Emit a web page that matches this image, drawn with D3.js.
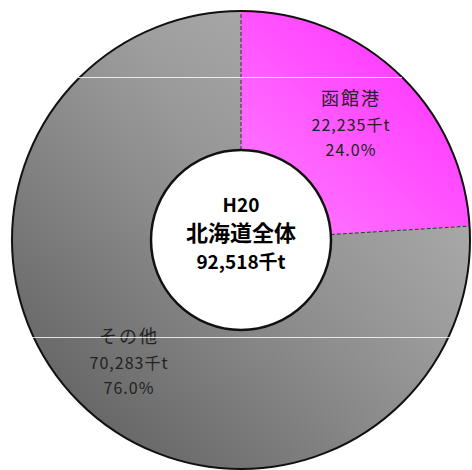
<!DOCTYPE html>
<html>
<head>
<meta charset="utf-8">
<script src="https://cdn.jsdelivr.net/npm/d3@7"></script>
<style>
  body { margin: 0; background: #fff; }
  text { font-family: "Noto Sans CJK JP", "Noto Sans", sans-serif; }
</style>
</head>
<body>
<div id="chart"></div>
<script>
// data
var categories = ["函館港", "その他"];
var values = [22235, 70283];
var centerTitle = ["H20", "北海道全体"];
var unit = "千t";

var svgWidth = 472;
var svgHeight = 470;
var cx = 241, cy = 240;
var outerR = 229, innerR = 90;

var total = d3.sum(values);

var svg = d3.select("#chart")
  .append("svg")
  .attr("width", svgWidth)
  .attr("height", svgHeight);

// gradients
var defs = svg.append("defs");
var gPink = defs.append("linearGradient")
  .attr("id", "gPink")
  .attr("gradientUnits", "userSpaceOnUse")
  .attr("x1", 460).attr("y1", 20).attr("x2", 240).attr("y2", 240);
gPink.append("stop").attr("offset", "0%").attr("stop-color", "#ff2bff");
gPink.append("stop").attr("offset", "100%").attr("stop-color", "#ff80ff");

var gGray = defs.append("linearGradient")
  .attr("id", "gGray")
  .attr("gradientUnits", "userSpaceOnUse")
  .attr("x1", 400).attr("y1", 60).attr("x2", 60).attr("y2", 420);
gGray.append("stop").attr("offset", "0%").attr("stop-color", "#b8b8b8");
gGray.append("stop").attr("offset", "55%").attr("stop-color", "#8a8a8a");
gGray.append("stop").attr("offset", "100%").attr("stop-color", "#626262");

var gGray2 = defs.append("linearGradient")
  .attr("id", "gGray2")
  .attr("gradientUnits", "userSpaceOnUse")
  .attr("x1", 120).attr("y1", 420).attr("x2", 460).attr("y2", 300);
gGray2.append("stop").attr("offset", "0%").attr("stop-color", "#808080").attr("stop-opacity", 0);
gGray2.append("stop").attr("offset", "100%").attr("stop-color", "#b4b4b4").attr("stop-opacity", 0.8);

var fills = ["url(#gPink)", "url(#gGray)"];

var chartGroup = svg.append("g")
  .attr("transform", `translate(${cx}, ${cy})`);

var pie = d3.pie().sort(null).value(d => d);
var arcs = pie(values);

var arc = d3.arc().innerRadius(innerR).outerRadius(outerR);

chartGroup.selectAll("path.slice")
  .data(arcs)
  .enter()
  .append("path")
  .attr("class", "slice")
  .attr("d", arc)
  .attr("fill", (d, i) => fills[i]);

// lighter bottom-right shading on gray
chartGroup.append("path")
  .attr("d", arc(arcs[1]))
  .attr("fill", "url(#gGray2)");

// slice borders (dashed)
chartGroup.selectAll("line.sep")
  .data(arcs)
  .enter()
  .append("line")
  .attr("class", "sep")
  .attr("x1", d => innerR * Math.sin(d.startAngle))
  .attr("y1", d => -innerR * Math.cos(d.startAngle))
  .attr("x2", d => outerR * Math.sin(d.startAngle))
  .attr("y2", d => -outerR * Math.cos(d.startAngle))
  .attr("stroke", "#333")
  .attr("stroke-width", 1)
  .attr("stroke-dasharray", "4,2");

// outer and inner outlines
chartGroup.append("circle")
  .attr("r", outerR)
  .attr("fill", "none")
  .attr("stroke", "#111")
  .attr("stroke-width", 2);
chartGroup.append("circle")
  .attr("r", innerR)
  .attr("fill", "#fff")
  .attr("stroke", "#111")
  .attr("stroke-width", 2.5);

// scan-line artifacts
svg.append("line").attr("x1", 78).attr("x2", 402).attr("y1", 77.5).attr("y2", 77.5)
  .attr("stroke", "#fff").attr("stroke-opacity", 0.8).attr("stroke-width", 1);
svg.append("line").attr("x1", 30).attr("x2", 452).attr("y1", 337.5).attr("y2", 337.5)
  .attr("stroke", "#fff").attr("stroke-opacity", 0.8).attr("stroke-width", 1);

// slice labels
var labelPos = [[110, -135], [-112, 103]];
var fmt = d3.format(",");
arcs.forEach(function(d, i) {
  var g = chartGroup.append("g")
    .attr("transform", `translate(${labelPos[i][0]}, ${labelPos[i][1]})`)
    .attr("text-anchor", "middle")
    .attr("fill", "#222");
  g.append("text").attr("y", 0).attr("font-size", 18).attr("letter-spacing", 2).text(categories[i]);
  g.append("text").attr("y", 26).attr("font-size", 16).attr("letter-spacing", 1).text(fmt(values[i]) + unit);
  g.append("text").attr("y", 51).attr("font-size", 16).attr("letter-spacing", 1).text((values[i] / total * 100).toFixed(1) + "%");
});

// center label
var center = chartGroup.append("g")
  .attr("text-anchor", "middle")
  .attr("fill", "#000")
  .attr("font-weight", "bold");
center.append("text").attr("y", -28).attr("font-size", 19).text(centerTitle[0]);
center.append("text").attr("y", 1).attr("font-size", 22).text(centerTitle[1]);
center.append("text").attr("y", 29).attr("font-size", 19).text(fmt(total) + unit);
</script>
</body>
</html>
